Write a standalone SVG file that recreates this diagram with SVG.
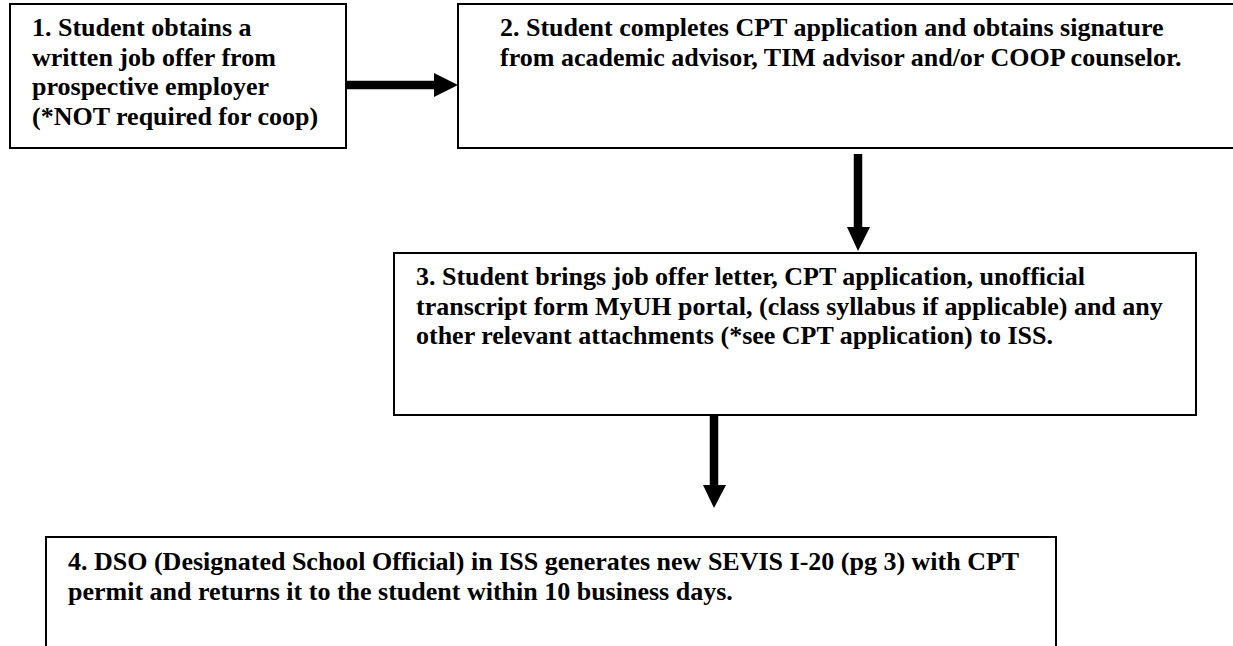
<svg xmlns="http://www.w3.org/2000/svg" width="1233" height="646" viewBox="0 0 1233 646">
<style>
.box{fill:#fff;stroke:#000;stroke-width:2}
.t{font-family:"Liberation Serif","Times New Roman",serif;font-weight:bold;font-size:26px;fill:#000}
.ln{stroke:#000;stroke-width:8.5;fill:none}
.hd{fill:#000}
</style>
<rect width="1233" height="646" fill="#fff"/>
<g id="node1">
<rect class="box" x="10" y="4" width="336" height="144"/>
<text class="t" x="32" y="36">1. Student obtains a</text>
<text class="t" x="32" y="65.5">written job offer from</text>
<text class="t" x="32" y="95">prospective employer</text>
<text class="t" x="32" y="124.5">(*NOT required for coop)</text>
</g>
<g id="node2">
<rect class="box" x="458" y="4" width="790" height="144"/>
<text class="t" x="500" y="36">2. Student completes CPT application and obtains signature</text>
<text class="t" x="500" y="65.5">from academic advisor, TIM advisor and/or COOP counselor.</text>
</g>
<g id="node3">
<rect class="box" x="394" y="253" width="802" height="162"/>
<text class="t" x="416" y="285">3. Student brings job offer letter, CPT application, unofficial</text>
<text class="t" x="416" y="314.5">transcript form MyUH portal, (class syllabus if applicable) and any</text>
<text class="t" x="416" y="344">other relevant attachments (*see CPT application) to ISS.</text>
</g>
<g id="node4">
<rect class="box" x="46" y="537" width="1010" height="130"/>
<text class="t" x="68" y="570">4. DSO (Designated School Official) in ISS generates new SEVIS I-20 (pg 3) with CPT</text>
<text class="t" x="68" y="599.5">permit and returns it to the student within 10 business days.</text>
</g>
<g id="connectors">
<line class="ln" x1="346" y1="85" x2="436" y2="85"/>
<polygon class="hd" points="434,73 458,85 434,97"/>
<line class="ln" x1="858" y1="154" x2="858" y2="229"/>
<polygon class="hd" points="847,227 870,227 858,251"/>
<line class="ln" x1="714" y1="415" x2="714" y2="487"/>
<polygon class="hd" points="703,485 726,485 714,508"/>
</g>
</svg>
